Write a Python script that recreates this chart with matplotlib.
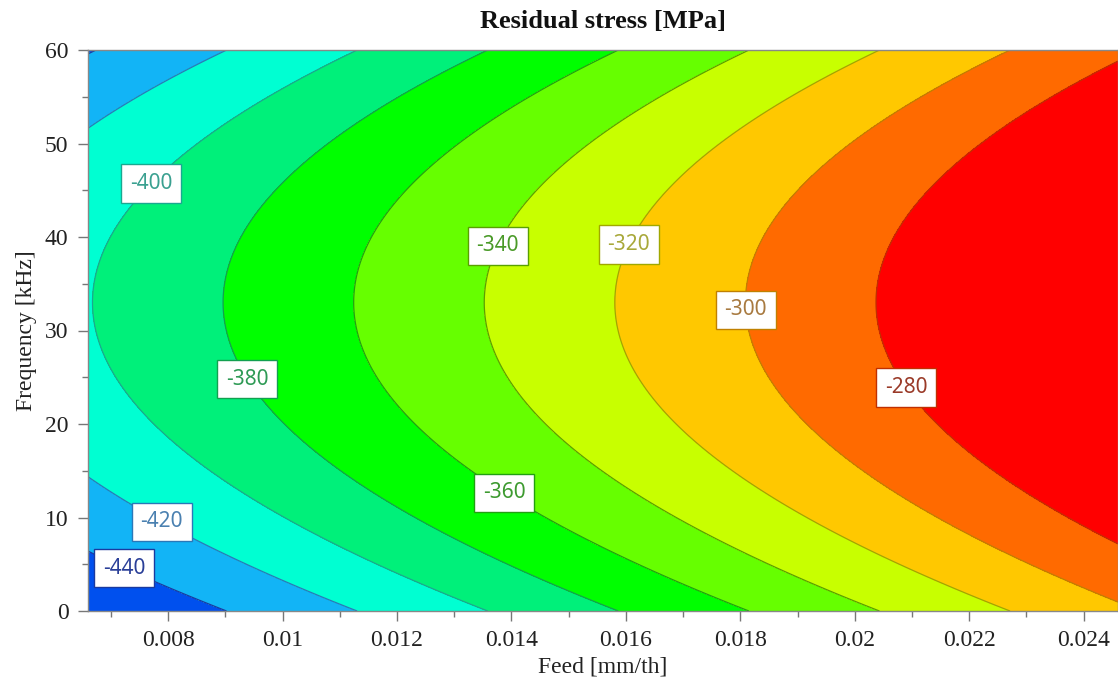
import numpy as np
import matplotlib
matplotlib.use("Agg")
import matplotlib.pyplot as plt
from matplotlib.ticker import MultipleLocator

# ---- data (response-surface model) ----
feed_limits = [0.0066, 0.0246]          # mm/th
freq_limits = [0.0, 60.0]               # kHz
# Residual stress = b0 + b_feed*f + b_freq*F + b_freq2*F^2
b0 = -519.06
b_feed = 8764.0
b_freq = 3.669
b_freq2 = -0.0556
line_levels = [-440, -420, -400, -380, -360, -340, -320, -300, -280]
fill_levels = [-520, -440, -420, -400, -380, -360, -340, -320, -300, -280, -200]
fill_colors = ['#0050EE', '#12B4F6', '#00FFD2', '#00F07A', '#00FF00',
               '#66FF00', '#C8FF00', '#FFC800', '#FF6A00', '#FF0000']
line_colors = ['#1a3aa0', '#2a78b8', '#1aa890', '#12a050', '#22a012',
               '#5aa000', '#a0a800', '#c08000', '#c03000']
label_text_colors = ['#2a3f98', '#4a80b0', '#3aa090', '#2e9a55', '#3d9a30',
                     '#4a9a28', '#a8a83a', '#a87a40', '#9a3a28']
label_positions = [(0.00772, 45.6), (0.00936, 24.7), (0.01371, 39.2),
                   (0.01605, 39.2), (0.01810, 32.2), (0.02089, 23.9),
                   (0.01387, 12.6), (0.00786, 9.2), (0.00720, 4.1)]
x_ticks = [0.008, 0.01, 0.012, 0.014, 0.016, 0.018, 0.02, 0.022, 0.024]
x_tick_labels = ['0.008', '0.01', '0.012', '0.014', '0.016', '0.018', '0.02', '0.022', '0.024']
y_ticks = [0, 10, 20, 30, 40, 50, 60]

# ---- grid ----
f = np.linspace(feed_limits[0], feed_limits[1], 400)
F = np.linspace(freq_limits[0], freq_limits[1], 400)
FF, QQ = np.meshgrid(f, F)
Z = b0 + b_feed * FF + b_freq * QQ + b_freq2 * QQ ** 2

fig = plt.figure(figsize=(11.18, 6.88), dpi=100)
ax = fig.add_axes([88 / 1118, 77 / 688, 1030 / 1118, 561 / 688])

ax.contourf(FF, QQ, Z, levels=fill_levels, colors=fill_colors)
cs = ax.contour(FF, QQ, Z, levels=line_levels, colors=line_colors, linewidths=0.9)
texts = ax.clabel(cs, inline=False, manual=label_positions, fmt='%d',
                  colors=label_text_colors, fontsize=15)
edge_map = {str(l): c for l, c in zip(line_levels, line_colors)}
for t in texts:
    t.set_rotation(0)
    t.set_family('Noto Sans')
    t.set_bbox(dict(boxstyle='square,pad=0.42', fc='white',
                    ec=edge_map.get(t.get_text(), '#555555'), lw=1.0))
    t.set_zorder(5)

ax.set_xlim(feed_limits)
ax.set_ylim(freq_limits)
ax.set_xticks(x_ticks)
ax.set_xticklabels(x_tick_labels)
ax.set_yticks(y_ticks)
ax.xaxis.set_minor_locator(MultipleLocator(0.001))
ax.yaxis.set_minor_locator(MultipleLocator(5))

serif = 'Liberation Serif'
for lab in ax.get_xticklabels() + ax.get_yticklabels():
    lab.set_family(serif)
    lab.set_fontsize(17)
    lab.set_color('#222222')
ax.tick_params(which='major', direction='out', length=7, width=1, color='#777777', pad=7)
ax.tick_params(which='minor', direction='out', length=4, width=1, color='#777777')
for s in ax.spines.values():
    s.set_color('#888888')
    s.set_linewidth(1)

ax.set_xlabel('Feed [mm/th]', family=serif, fontsize=17, color='#222222', labelpad=4)
ax.set_ylabel('Frequency [kHz]', family=serif, fontsize=17, color='#222222', labelpad=6)
ax.set_title('Residual stress [MPa]', family=serif, fontsize=19, fontweight='bold',
             color='#111111', pad=16)

fig.savefig('out.png', dpi=100)
